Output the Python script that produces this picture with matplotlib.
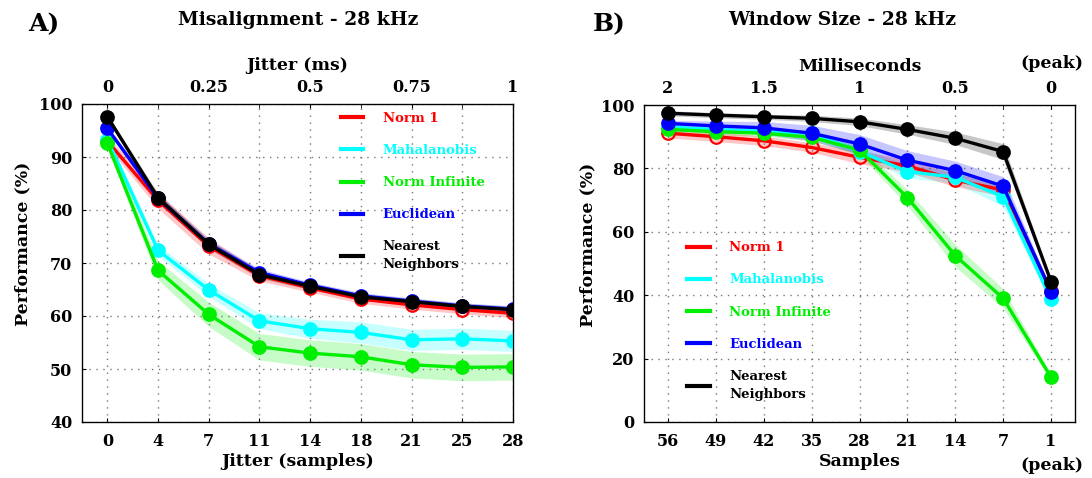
import matplotlib
matplotlib.use("Agg")
import matplotlib.pyplot as plt
from matplotlib.lines import Line2D
import numpy as np

plt.rcParams['font.family'] = ['DejaVu Serif']
plt.rcParams['font.weight'] = 'bold'

# ---------------- Data ----------------
series_names = ["Norm 1", "Mahalanobis", "Norm Infinite", "Euclidean", "Nearest\nNeighbors"]
series_colors = ["#ff0000", "#00ffff", "#00ee00", "#0000ff", "#000000"]

# Panel A: misalignment
a_samples = ["0", "4", "7", "11", "14", "18", "21", "25", "28"]
a_ms_ticks = ["0", "0.25", "0.5", "0.75", "1"]
a_norm1 = [93.0, 81.8, 73.2, 67.6, 65.3, 63.2, 62.1, 61.2, 60.5]
a_mahal = [93.3, 72.4, 64.9, 59.1, 57.6, 56.9, 55.5, 55.7, 55.3]
a_norminf = [92.6, 68.6, 60.3, 54.2, 53.0, 52.3, 50.8, 50.3, 50.4]
a_eucl = [95.4, 82.2, 73.6, 68.2, 65.8, 63.8, 62.8, 61.9, 61.3]
a_nn = [97.6, 82.3, 73.5, 67.8, 65.6, 63.6, 62.7, 61.8, 61.2]
a_norm1_sd = [1.0, 1.5, 1.5, 1.0, 0.8, 0.8, 0.8, 0.8, 0.8]
a_mahal_sd = [0.8, 1.0, 1.2, 1.5, 1.8, 2.0, 2.0, 2.0, 2.0]
a_norminf_sd = [0.8, 1.8, 2.3, 2.5, 2.5, 2.5, 2.5, 2.5, 2.5]
a_eucl_sd = [0.5, 0.8, 0.8, 0.7, 0.6, 0.6, 0.6, 0.6, 0.6]
a_nn_sd = [0.5, 0.8, 0.8, 0.7, 0.6, 0.6, 0.6, 0.6, 0.6]

# Panel B: window size
b_samples = ["56", "49", "42", "35", "28", "21", "14", "7", "1"]
b_ms_ticks = ["2", "1.5", "1", "0.5", "0"]
b_norm1 = [91.1, 90.0, 88.7, 86.6, 83.5, 80.8, 76.3, 73.2, 41.4]
b_mahal = [93.0, 92.3, 91.7, 91.1, 85.3, 79.0, 77.2, 71.1, 38.7]
b_norminf = [92.3, 91.6, 91.1, 89.8, 85.8, 70.8, 52.5, 39.0, 14.1]
b_eucl = [94.2, 93.4, 92.8, 91.1, 87.7, 82.6, 79.3, 74.4, 41.1]
b_nn = [97.4, 96.8, 96.3, 95.8, 94.7, 92.3, 89.5, 85.3, 44.3]
b_norm1_sd = [1.5, 1.5, 1.5, 1.5, 2.0, 2.0, 2.0, 2.0, 1.0]
b_mahal_sd = [1.0, 1.0, 1.0, 1.0, 1.5, 2.0, 2.0, 3.0, 1.0]
b_norminf_sd = [1.0, 1.0, 1.0, 1.0, 1.5, 2.5, 3.5, 3.0, 1.0]
b_eucl_sd = [1.0, 1.5, 2.0, 2.5, 3.0, 3.0, 3.0, 3.0, 1.0]
b_nn_sd = [0.8, 0.8, 0.8, 1.0, 1.2, 1.5, 2.0, 2.5, 1.0]

W, H = 1092, 478
fig = plt.figure(figsize=(W / 100, H / 100), dpi=100)
TICK_FS = 11.5
LABEL_FS = 12.5


def px_axes(x0, x1, y0, y1):
    return fig.add_axes([x0 / W, 1 - y1 / H, (x1 - x0) / W, (y1 - y0) / H])


def draw_panel(ax, means, sds, hollow, xlim, ylim, yticks, bottom_labels, top_labels):
    x = np.arange(len(bottom_labels))
    order = [2, 1, 0, 3, 4]
    for i in order:
        m = np.array(means[i]); s = np.array(sds[i]); c = series_colors[i]
        ax.fill_between(x, m - s, m + s, color=c, alpha=0.22, lw=0, zorder=2)
    for i in order:
        m = np.array(means[i]); c = series_colors[i]
        mfc = 'none' if hollow[i] else c
        ax.plot(x, m, color=c, lw=2.4, marker='o', ms=9, mfc=mfc, mec=c,
                mew=1.6, zorder=3 + i)
    ax.set_xlim(*xlim)
    ax.set_ylim(*ylim)
    ax.set_xticks(x)
    ax.set_xticklabels(bottom_labels)
    ax.set_yticks(yticks)
    ax.tick_params(axis='both', direction='in', length=3, labelsize=TICK_FS, pad=7)
    ax.tick_params(axis='x', pad=8)
    for lab in ax.get_xticklabels() + ax.get_yticklabels():
        lab.set_fontweight('bold')
    ax.grid(True, which='major', color='#777777', linestyle=(0, (1, 4)), lw=1.0)
    for sp in ax.spines.values():
        sp.set_color('#555555'); sp.set_linewidth(1.0)
    top = ax.twiny()
    top.set_xlim(*xlim)
    top.set_xticks(x[::2])
    top.set_xticklabels(top_labels)
    top.set_xticks(x, minor=True)
    top.tick_params(axis='x', which='both', direction='in', length=3, labelsize=TICK_FS, pad=6)
    for lab in top.get_xticklabels():
        lab.set_fontweight('bold')
    return top


def add_legend(ax, anchor):
    handles = [Line2D([], [], color=c, lw=3) for c in series_colors]
    leg = ax.legend(handles, series_names, loc='upper left', bbox_to_anchor=anchor,
                    frameon=False, handlelength=1.7, handletextpad=1.5,
                    labelspacing=1.45, borderpad=0, borderaxespad=0,
                    prop={'size': 9.5, 'weight': 'bold'}, labelcolor='linecolor')
    for t in leg.get_texts():
        t.set_linespacing(1.5)
    leg.set_zorder(20)
    return leg


# Panel A
axA = px_axes(82, 513, 104, 422)
topA = draw_panel(axA, [a_norm1, a_mahal, a_norminf, a_eucl, a_nn],
                  [a_norm1_sd, a_mahal_sd, a_norminf_sd, a_eucl_sd, a_nn_sd],
                  [True, False, False, False, False],
                  (-0.5, 8), (40, 100), np.arange(40, 101, 10), a_samples, a_ms_ticks)
axA.set_xlabel("Jitter (samples)", fontsize=LABEL_FS, fontweight='bold', labelpad=2)
axA.set_ylabel("Performance (%)", fontsize=LABEL_FS, fontweight='bold')
axA.yaxis.set_label_coords(-0.118, 0.56)
topA.set_xlabel("Jitter (ms)", fontsize=LABEL_FS, fontweight='bold', labelpad=6)
add_legend(axA, (0.6, 0.975))

# Panel B
axB = px_axes(644, 1075, 105, 422)
topB = draw_panel(axB, [b_norm1, b_mahal, b_norminf, b_eucl, b_nn],
                  [b_norm1_sd, b_mahal_sd, b_norminf_sd, b_eucl_sd, b_nn_sd],
                  [True, False, False, False, False],
                  (-0.5, 8.5), (0, 100), np.arange(0, 101, 20), b_samples, b_ms_ticks)
axB.set_xlabel("Samples", fontsize=LABEL_FS, fontweight='bold', labelpad=2)
axB.set_ylabel("Performance (%)", fontsize=LABEL_FS, fontweight='bold')
axB.yaxis.set_label_coords(-0.11, 0.56)
topB.set_xlabel("Milliseconds", fontsize=LABEL_FS, fontweight='bold', labelpad=6)
add_legend(axB, (0.1, 0.57))

fig.text(1052 / W, 1 - 465 / H, "(peak)", ha='center', va='center', fontsize=LABEL_FS, fontweight='bold')
fig.text(1052 / W, 1 - 64 / H, "(peak)", ha='center', va='center', fontsize=LABEL_FS, fontweight='bold')

# Titles and panel letters
fig.text(298 / W, 1 - 20 / H, "Misalignment - 28 kHz", ha='center', va='center', fontsize=13.5, fontweight='bold')
fig.text(842 / W, 1 - 20 / H, "Window Size - 28 kHz", ha='center', va='center', fontsize=13.5, fontweight='bold')
fig.text(28 / W, 1 - 24 / H, "A)", ha='left', va='center', fontsize=18, fontweight='bold')
fig.text(593 / W, 1 - 24 / H, "B)", ha='left', va='center', fontsize=18, fontweight='bold')

fig.savefig("out.png", dpi=100)
